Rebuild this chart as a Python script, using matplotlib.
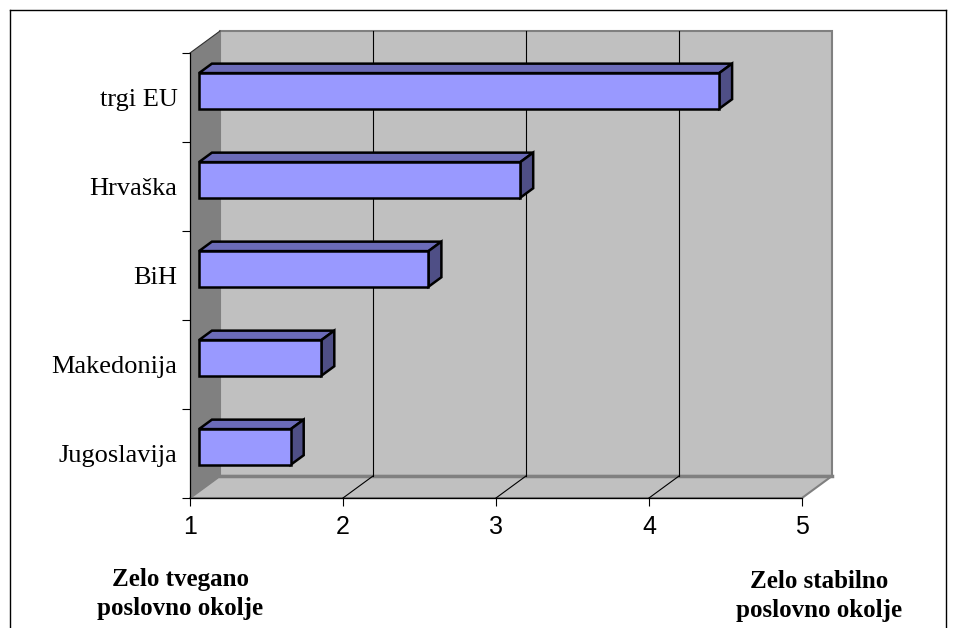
import matplotlib.pyplot as plt
from matplotlib.patches import Polygon
from matplotlib.lines import Line2D

# data
countries = ['Jugoslavija', 'Makedonija', 'BiH', 'Hrvaška', 'trgi EU']
scores = [1.6, 1.8, 2.5, 3.1, 4.4]
xticks = [1, 2, 3, 4, 5]
low_label = 'Zelo tvegano\nposlovno okolje'
high_label = 'Zelo stabilno\nposlovno okolje'

W, H = 956, 628
fig = plt.figure(figsize=(W / 100, H / 100), dpi=100)

# front plane of the 3d box, in pixels
x0, x1, ytop, ybot = 190, 802, 53, 498
ax = fig.add_axes([x0 / W, 1 - ybot / H, (x1 - x0) / W, (ybot - ytop) / H])
ax.set_xlim(1, 5)
ax.set_ylim(0, len(countries))
ax.patch.set_visible(False)

# oblique depth offset in data units
DX = 30 / ((x1 - x0) / 4)
DY = 22 / ((ybot - ytop) / len(countries))
ny = len(countries)

def P(x, y, d):
    return (x + d * DX, y + d * DY)

wall = '#c0c0c0'
side = '#808080'

# back wall, floor and left wall
ax.add_patch(Polygon([P(1, 0, 1), P(5, 0, 1), P(5, ny, 1), P(1, ny, 1)],
                     fc=wall, ec=side, lw=1.5, clip_on=False, zorder=1))
ax.add_patch(Polygon([P(1, 0, 0), P(5, 0, 0), P(5, 0, 1), P(1, 0, 1)],
                     fc=wall, ec=side, lw=1.5, clip_on=False, zorder=1))
ax.add_patch(Polygon([P(1, 0, 0), P(1, 0, 1), P(1, ny, 1), P(1, ny, 0)],
                     fc=side, ec='none', clip_on=False, zorder=1.5))
ax.plot(*zip(P(1, 0, 1), P(5, 0, 1)), color=side, lw=2.5, clip_on=False, zorder=1.6)
ax.plot(*zip(P(1, ny, 0), P(1, ny, 1)), color='#303030', lw=0.8, clip_on=False, zorder=1.6)

# gridlines on the back wall and the floor
for v in xticks[1:-1]:
    ax.plot(*zip(P(v, 0, 1), P(v, ny, 1)), color='black', lw=0.8, clip_on=False, zorder=2)
    ax.plot(*zip(P(v, 0, 0), P(v, 0, 1)), color='black', lw=0.8, clip_on=False, zorder=2)

# 3d bars
f1, f2 = 0.3, 0.73
hh = 0.2
front_c, top_c, side_c = '#9999ff', '#6b6bb8', '#4f4f86'
for i, val in enumerate(scores):
    yc = i + 0.5
    yb, yt = yc - hh, yc + hh
    top = [P(1, yt, f1), P(val, yt, f1), P(val, yt, f2), P(1, yt, f2)]
    rside = [P(val, yb, f1), P(val, yb, f2), P(val, yt, f2), P(val, yt, f1)]
    front = [P(1, yb, f1), P(val, yb, f1), P(val, yt, f1), P(1, yt, f1)]
    for pts, c in ((top, top_c), (rside, side_c), (front, front_c)):
        ax.add_patch(Polygon(pts, fc=c, ec='black', lw=1.8, joinstyle='miter',
                             clip_on=False, zorder=3))

# axes lines and ticks
for s in ('top', 'right'):
    ax.spines[s].set_visible(False)
for s in ('left', 'bottom'):
    ax.spines[s].set_color('black')
    ax.spines[s].set_linewidth(0.9)
    ax.spines[s].set_zorder(4)

ax.set_xticks(xticks)
ax.set_xticklabels([str(t) for t in xticks], family='Liberation Sans', fontsize=18)
ax.tick_params(axis='x', direction='out', length=5.5, width=0.8, pad=7)

ax.set_yticks(range(ny + 1))
ax.set_yticklabels([])
ax.tick_params(axis='y', which='major', direction='out', length=6, width=0.8)
ax.set_yticks([i + 0.5 for i in range(ny)], minor=True)
ax.set_yticklabels(countries, minor=True, family='Liberation Serif', fontsize=19)
ax.tick_params(axis='y', which='minor', length=0, pad=9)

# end labels under the axis
fig.text(180 / W, 1 - 594 / H, low_label, ha='center', va='center',
         family='Liberation Serif', fontweight='bold', fontsize=18, linespacing=1.3)
fig.text(819 / W, 1 - 596 / H, high_label, ha='center', va='center',
         family='Liberation Serif', fontweight='bold', fontsize=18, linespacing=1.3)

# outer frame
fx0, fx1, fy = 10 / W, 946 / W, 1 - 10 / H
for xs, ys in (([fx0, fx0], [0, fy]), ([fx0, fx1], [fy, fy]), ([fx1, fx1], [0, fy])):
    fig.add_artist(Line2D(xs, ys, color='black', lw=1.0, transform=fig.transFigure))

fig.savefig('out.png', dpi=100)
